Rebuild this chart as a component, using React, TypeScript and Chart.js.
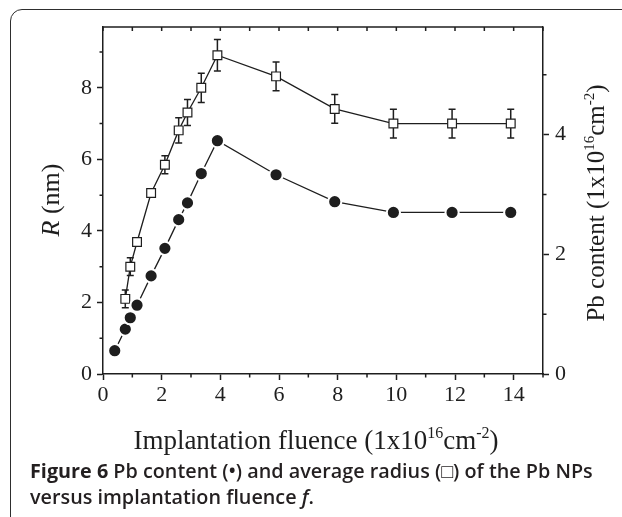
import React, { useEffect, useRef } from 'react';
import { Chart, registerables } from 'chart.js';

Chart.register(...registerables);

// ---- data ----
const fluence = [0.4, 0.76, 0.93, 1.16, 1.64, 2.11, 2.58, 2.88, 3.35, 3.9, 5.9, 7.9, 9.9, 11.9, 13.9];
const pbContent = [0.39, 0.75, 0.94, 1.15, 1.64, 2.1, 2.58, 2.86, 3.35, 3.9, 3.33, 2.88, 2.7, 2.7, 2.7];
const radius = [null, 2.1, 3.0, 3.69, 5.06, 5.85, 6.81, 7.31, 8.0, 8.91, 8.32, 7.41, 7.0, 7.0, 7.0];
const radiusErr = [null, 0.25, 0.25, 0.12, 0.12, 0.25, 0.35, 0.36, 0.41, 0.44, 0.4, 0.4, 0.4, 0.4, 0.4];

const xRange = [0, 15];
const yLeftRange = [0, 9.7];
const yRightRange = [0, 5.8];

const xTitle = ['Implantation fluence (1x10', '16', 'cm', '-2', ')'];
const yLeftTitle = ['R', ' (nm)'];
const yRightTitle = ['Pb content (1x10', '16', 'cm', '-2', ')'];

const INK = '#1e1e1e';
const SERIF = '"Liberation Serif", "Times New Roman", serif';

type Seg = { t: string; sup?: boolean; italic?: boolean };

function drawRich(ctx: CanvasRenderingContext2D, segs: Seg[], x: number, y: number, rot: number, size: number) {
  ctx.save();
  ctx.translate(x, y);
  ctx.rotate(rot);
  ctx.fillStyle = INK;
  ctx.textAlign = 'left';
  ctx.textBaseline = 'alphabetic';
  const fontOf = (s: Seg) => `${s.italic ? 'italic ' : ''}${s.sup ? Math.round(size * 0.6) : size}px ${SERIF}`;
  let total = 0;
  const widths = segs.map((s) => {
    ctx.font = fontOf(s);
    const w = ctx.measureText(s.t).width;
    total += w;
    return w;
  });
  let cx = -total / 2;
  const base = size * 0.33;
  segs.forEach((s, i) => {
    ctx.font = fontOf(s);
    ctx.fillText(s.t, cx, base + (s.sup ? -size * 0.42 : 0));
    cx += widths[i];
  });
  ctx.restore();
}

const decorPlugin = {
  id: 'decor',
  beforeDatasetsDraw(chart: any) {
    const { ctx } = chart;
    const xs = chart.scales.x;
    const ys = chart.scales.y;
    ctx.save();
    ctx.strokeStyle = INK;
    ctx.lineWidth = 1.5;
    fluence.forEach((f, i) => {
      const r = radius[i];
      const e = radiusErr[i];
      if (r == null || e == null) return;
      const px = xs.getPixelForValue(f);
      const top = ys.getPixelForValue(r + e);
      const bot = ys.getPixelForValue(r - e);
      ctx.beginPath();
      ctx.moveTo(px, top);
      ctx.lineTo(px, bot);
      ctx.moveTo(px - 3.5, top);
      ctx.lineTo(px + 3.5, top);
      ctx.moveTo(px - 3.5, bot);
      ctx.lineTo(px + 3.5, bot);
      ctx.stroke();
    });
    ctx.restore();
  },
  afterDraw(chart: any) {
    const { ctx, chartArea: a } = chart;
    const xs = chart.scales.x;
    const ys = chart.scales.y;
    const y1 = chart.scales.y1;
    ctx.save();
    ctx.strokeStyle = INK;
    ctx.lineWidth = 1.5;
    // top frame line
    ctx.beginPath();
    ctx.moveTo(a.left, a.top);
    ctx.lineTo(a.right, a.top);
    ctx.stroke();
    ctx.beginPath();
    // top inward ticks + minor ticks
    xs.ticks.forEach((t: any) => {
      const px = xs.getPixelForValue(t.value);
      ctx.moveTo(px, a.top);
      ctx.lineTo(px, a.top + 4);
      if (t.value % 2 !== 0) {
        ctx.moveTo(px, a.bottom);
        ctx.lineTo(px, a.bottom + 3.5);
      }
    });
    ys.ticks.forEach((t: any) => {
      if (t.value % 2 !== 0) {
        const py = ys.getPixelForValue(t.value);
        ctx.moveTo(a.left, py);
        ctx.lineTo(a.left - 3.5, py);
      }
    });
    y1.ticks.forEach((t: any) => {
      if (t.value % 2 !== 0) {
        const py = y1.getPixelForValue(t.value);
        ctx.moveTo(a.right, py);
        ctx.lineTo(a.right + 3.5, py);
      }
    });
    ctx.stroke();
    ctx.restore();

    drawRich(ctx, [
      { t: xTitle[0] }, { t: xTitle[1], sup: true }, { t: xTitle[2] }, { t: xTitle[3], sup: true }, { t: xTitle[4] },
    ], 316, 440, 0, 27);
    drawRich(ctx, [{ t: yLeftTitle[0], italic: true }, { t: yLeftTitle[1] }], 50, 200, -Math.PI / 2, 26);
    drawRich(ctx, [
      { t: yRightTitle[0] }, { t: yRightTitle[1], sup: true }, { t: yRightTitle[2] }, { t: yRightTitle[3], sup: true }, { t: yRightTitle[4] },
    ], 596, 203, -Math.PI / 2, 25);
  },
};

const intOnly = (s: any) => {
  s.ticks = s.ticks.filter((t: any) => Number.isInteger(t.value));
};
const evenLabel = (v: any) => (Number(v) % 2 === 0 ? String(v) : '');
const majorColor = (c: any) => (c.tick && c.tick.value % 2 === 0 ? INK : 'rgba(0,0,0,0)');

export default function App() {
  const ref = useRef<HTMLCanvasElement | null>(null);
  useEffect(() => {
    if (!ref.current) return;
    const circles = fluence.map((f, i) => ({ x: f, y: pbContent[i] }));
    const squares = fluence
      .map((f, i) => ({ x: f, y: radius[i] }))
      .filter((p) => p.y != null);
    const tickFont = { family: SERIF, size: 22 };
    const chart = new Chart(ref.current, {
      type: 'line',
      data: {
        datasets: [
          {
            label: 'Pb content',
            data: circles as any,
            yAxisID: 'y1',
            borderColor: INK,
            borderWidth: 1.3,
            pointStyle: 'circle',
            pointRadius: 6.6,
            pointBackgroundColor: INK,
            pointBorderColor: '#ffffff',
            pointBorderWidth: 2,
            tension: 0,
          },
          {
            label: 'R',
            data: squares as any,
            yAxisID: 'y',
            borderColor: INK,
            borderWidth: 1.3,
            pointStyle: 'rect',
            pointRadius: 6.2,
            pointBackgroundColor: '#ffffff',
            pointBorderColor: INK,
            pointBorderWidth: 1.2,
            tension: 0,
          },
        ],
      },
      options: {
        animation: false,
        responsive: false,
        devicePixelRatio: 1,
        layout: { padding: { top: 27, left: 0, right: 0, bottom: 0 } },
        plugins: { legend: { display: false }, tooltip: { enabled: false } },
        scales: {
          x: {
            type: 'linear',
            min: xRange[0],
            max: xRange[1],
            afterBuildTicks: intOnly,
            afterFit: (s: any) => { s.height = 143; },
            ticks: { stepSize: 1, callback: evenLabel, font: tickFont, color: INK, padding: 2, maxRotation: 0, autoSkip: false },
            grid: { drawOnChartArea: false, drawTicks: true, tickLength: 6, tickWidth: 1.5, tickColor: majorColor },
            border: { display: true, color: INK, width: 1.5 },
          },
          y: {
            type: 'linear',
            position: 'left',
            min: yLeftRange[0],
            max: yLeftRange[1],
            afterBuildTicks: intOnly,
            afterFit: (s: any) => { s.width = 103; },
            ticks: { stepSize: 1, callback: evenLabel, font: tickFont, color: INK, padding: 5, autoSkip: false },
            grid: { drawOnChartArea: false, drawTicks: true, tickLength: 6, tickWidth: 1.5, tickColor: majorColor },
            border: { display: true, color: INK, width: 1.5 },
          },
          y1: {
            type: 'linear',
            position: 'right',
            min: yRightRange[0],
            max: yRightRange[1],
            afterBuildTicks: intOnly,
            afterFit: (s: any) => { s.width = 79; },
            ticks: { stepSize: 1, callback: evenLabel, font: tickFont, color: INK, padding: 6, autoSkip: false },
            grid: { drawOnChartArea: false, drawTicks: true, tickLength: 6, tickWidth: 1.5, tickColor: majorColor },
            border: { display: true, color: INK, width: 1.5 },
          },
        },
      } as any,
      plugins: [decorPlugin],
    });
    return () => chart.destroy();
  }, []);

  return (
    <div style={{ position: 'fixed', left: 0, top: 0, width: 622, height: 517, overflow: 'hidden', background: '#fff' }}>
      <div
        style={{
          position: 'absolute', left: 10, top: 9, width: 900, height: 900,
          border: '1.6px solid #2e2e2e', borderRadius: 12, boxSizing: 'border-box',
        }}
      />
      <canvas ref={ref} width={622} height={517} style={{ position: 'absolute', left: 0, top: 0, width: 622, height: 517 }} />
      <div
        style={{
          position: 'absolute', left: 30, top: 458, width: 590,
          fontFamily: '"Open Sans", "Noto Sans", sans-serif', fontSize: 19.8, lineHeight: '26px',
          color: '#231f20', fontWeight: 600, whiteSpace: 'nowrap',
        }}
      >
        <div><span style={{ fontWeight: 700 }}>Figure 6</span> Pb content (•) and average radius (□) of the Pb NPs</div>
        <div>versus implantation fluence <i>f</i>.</div>
      </div>
    </div>
  );
}
